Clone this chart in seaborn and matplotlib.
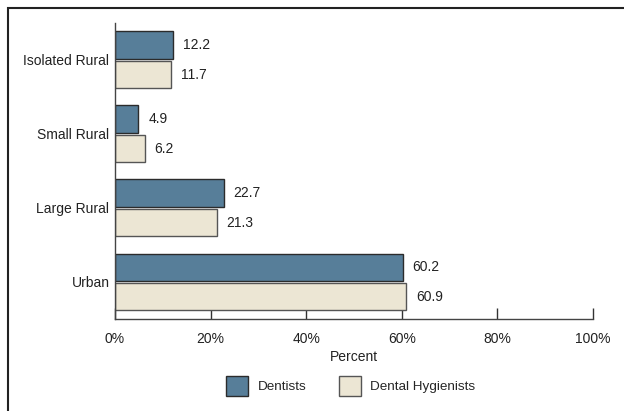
import matplotlib
matplotlib.use('Agg')
import matplotlib.pyplot as plt
import pandas as pd
import seaborn as sns
from matplotlib.patches import Rectangle
from matplotlib.ticker import FuncFormatter

# Data
regions = ['Isolated Rural', 'Small Rural', 'Large Rural', 'Urban']
dentists = [12.2, 4.9, 22.7, 60.2]
hygienists = [11.7, 6.2, 21.3, 60.9]
groups = ['Dentists', 'Dental Hygienists']
colors = ['#577E99', '#ECE6D4']
edges = ['#2b2b2b', '#555555']

df = pd.DataFrame({
    'region': regions * 2,
    'percent': dentists + hygienists,
    'group': [groups[0]] * len(regions) + [groups[1]] * len(regions),
})

sns.set_style('white')
plt.rcParams['font.family'] = ['Liberation Sans', 'DejaVu Sans']
fs = 10

fig = plt.figure(figsize=(6.24, 4.11), dpi=100)
ax = fig.add_axes([0.1843, 0.2238, 0.766, 0.721])

sns.barplot(data=df, y='region', x='percent', hue='group', order=regions,
            hue_order=groups, palette=colors, saturation=1, orient='h',
            width=0.8, gap=0.08, linewidth=1, ax=ax, legend=False)

for cont, ec in zip(ax.containers, edges):
    for bar in cont:
        bar.set_edgecolor(ec)
    ax.bar_label(cont, fmt='%.1f', padding=7, fontsize=fs, color='#222222')

ax.set_xlim(0, 100)
ax.set_ylim(3.5, -0.5)
ax.set_xticks(range(0, 101, 20))
ax.xaxis.set_major_formatter(FuncFormatter(lambda v, p: f'{v:.0f}%'))
ax.tick_params(axis='x', bottom=True, direction='in', length=8, width=1,
               color='#333333', pad=9, labelsize=fs, labelcolor='#222222')
ax.tick_params(axis='y', left=False, length=0, pad=4, labelsize=fs,
               labelcolor='#222222')
ax.set_xlabel('Percent', fontsize=fs, color='#222222', labelpad=3)
ax.set_ylabel('')

sns.despine(ax=ax, top=True, right=True)
for side in ['left', 'bottom']:
    ax.spines[side].set_color('#444444')
    ax.spines[side].set_linewidth(1)

handles = [Rectangle((0, 0), 1, 1, facecolor=c, edgecolor=e, linewidth=1)
           for c, e in zip(colors, edges)]
fig.legend(handles, groups, loc='center', bbox_to_anchor=(0.562, 0.061),
           ncol=2, frameon=False, handlelength=1.65, handleheight=1.9,
           handletextpad=0.7, columnspacing=2.4, fontsize=9.7)

# outer frame (cropped at right and bottom in the original)
fig.patches.append(Rectangle((8 / 624, -0.05), 1.1, 1 - 8 / 411 + 0.05,
                             transform=fig.transFigure, fill=False,
                             edgecolor='#222222', linewidth=1.5))

fig.savefig('out.png', dpi=100)
